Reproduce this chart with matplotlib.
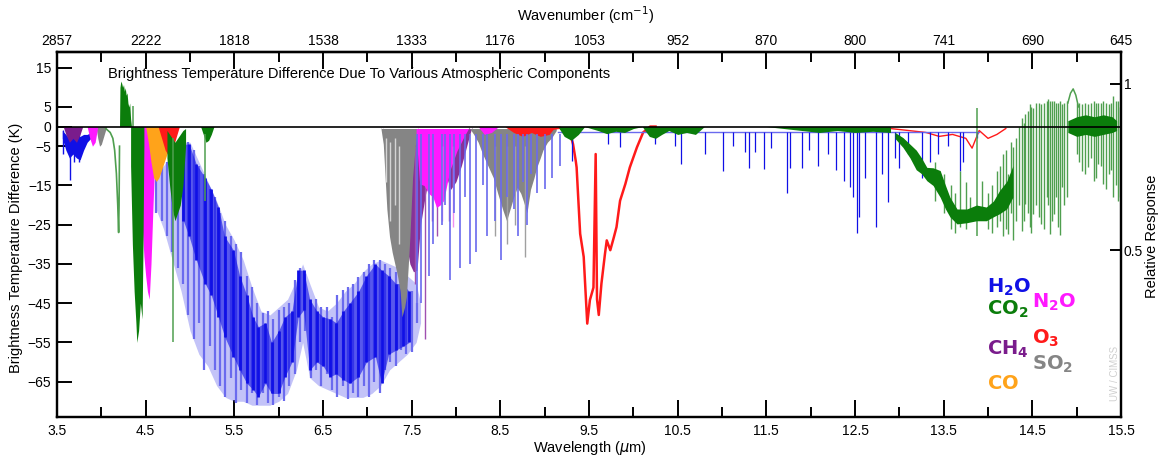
import numpy as np
import matplotlib.pyplot as plt

plt.rcParams['font.family'] = ['Liberation Sans', 'DejaVu Sans']

# ---------------- data ----------------
wl_major = [3.5, 4.5, 5.5, 6.5, 7.5, 8.5, 9.5, 10.5, 11.5, 12.5, 13.5, 14.5, 15.5]
wl_minor = [4.0, 5.0, 6.0, 7.0, 8.0, 9.0, 10.0, 11.0, 12.0, 13.0, 14.0, 15.0]
wn_labels = ['2857', '2222', '1818', '1538', '1333', '1176', '1053', '952', '870', '800', '741', '690', '645']
bt_ticks = [15, 5, 0, -5, -15, -25, -35, -45, -55, -65]
rr_ticks = [0.5, 1]
rr_labels = ['0.5', '1']

# H2O
h2o_sw_wl = [3.56, 3.60, 3.64, 3.68, 3.72, 3.76, 3.80, 3.84, 3.88, 3.92]
h2o_sw_top = [-1, -2, -3, -2, -3, -2.5, -2, -2, -1.5, -1]
h2o_sw_bot = [-3, -6, -8, -7, -8, -8.5, -6, -4, -3, -1.5]
h2o_sw_spk_wl = [3.57, 3.645, 3.69, 3.75]
h2o_sw_spk = [-7, -13.5, -9, -9]

# outer (light) envelope of the 6.3 um band
h2o_band_wl = [4.60, 4.70, 4.80, 4.90, 5.00, 5.10, 5.20, 5.30, 5.40, 5.50, 5.60, 5.70, 5.80, 5.90, 6.00, 6.10,
               6.20, 6.27, 6.35, 6.45, 6.55, 6.65, 6.75, 6.85, 6.95, 7.05, 7.15, 7.25, 7.35, 7.45, 7.55, 7.60]
h2o_band_top = [-12, -10, -7, -4, -4, -9, -14, -19, -25, -29, -34, -41, -47, -48, -46, -44,
                -39, -35, -40, -46, -47, -45, -42, -40, -37, -35, -34, -35, -36, -38, -40, -45]
h2o_band_bot = [-20, -26, -34, -42, -52, -58, -61, -66, -69, -70, -70, -71, -71, -71, -70, -68,
                -62, -55, -64, -66, -67, -68, -69, -69, -69, -68, -66, -62, -60, -58, -55, -50]

# individual light lines of the band
h2o_lt_wl = [4.62, 4.68, 4.74, 4.80, 4.86, 4.92, 4.98, 5.04, 5.10, 5.16, 5.22, 5.28, 5.34, 5.40, 5.46, 5.52,
             5.58, 5.64, 5.70, 5.76, 5.82, 5.88, 5.94, 6.00, 6.06, 6.12, 6.18, 6.24, 6.30, 6.36, 6.42, 6.48,
             6.54, 6.60, 6.66, 6.72, 6.78, 6.84, 6.90, 6.96, 7.02, 7.08, 7.14, 7.20, 7.26, 7.32, 7.38, 7.44,
             7.50, 7.56]
h2o_lt_top = [-12, -10, -9, -7, -6, -3.6, -4, -6, -10, -12, -16, -18, -22, -24, -28, -30,
              -32, -38, -41, -45, -47.6, -47, -49, -46.8, -46, -45, -39, -36, -37.5, -45, -44, -46,
              -46, -48.5, -43, -41.7, -41, -40, -38.3, -37, -35, -34, -34, -35, -36, -37, -38, -40,
              -42, -45]
h2o_lt_bot = [-22, -24, -28, -32, -36, -40, -48, -54, -50, -62, -56, -62, -66, -69, -64, -70.5,
              -67, -70.4, -68, -71, -68, -70.5, -71, -69, -70, -66, -63, -55, -52, -64, -62, -66,
              -63, -67, -69, -66, -69.5, -68, -69, -66, -69, -65, -68, -62, -60, -61, -57, -58,
              -57.5, -50]

# dark core lines of the band
h2o_core_wl = [4.925, 4.99, 5.07, 5.17, 5.24, 5.32, 5.39, 5.49, 5.56, 5.64, 5.71, 5.77, 5.85, 5.92, 6.00,
               6.07, 6.15, 6.22, 6.28, 6.35, 6.43, 6.50, 6.58, 6.65, 6.73, 6.80, 6.90, 6.99, 7.09, 7.16,
               7.24, 7.32, 7.40, 7.47]
h2o_core_top = [-4.5, -4.5, -9.5, -13, -16, -20.5, -28, -31.5, -38, -43, -48.5, -51, -50, -55, -52,
                -48.5, -47, -36.6, -36.6, -44, -47, -48.5, -49, -50, -47, -45, -42, -38, -35, -36.6,
                -38, -40, -40, -42]
h2o_core_bot = [-24, -28, -34, -40, -43, -48.5, -53.5, -58.6, -62, -65.4, -67, -68.8, -65.4, -68, -68,
                -63.7, -60, -48.5, -46.8, -62, -60, -61, -63.7, -63, -64.5, -65.4, -63.7, -60, -58.6, -65.4,
                -58, -57, -56, -55]

h2o_mid_wl = [7.56, 7.61, 7.69, 7.74, 7.84, 7.88, 7.93, 7.98, 8.05, 8.10, 8.16, 8.23, 8.30, 8.35, 8.44,
              8.51, 8.58, 8.65, 8.70, 8.75, 8.80, 8.85, 8.91, 9.00, 9.08, 9.17]
h2o_mid_depth = [-50, -45, -38, -30, -25, -20, -39, -22, -36, -18, -35, -32, -15, -28, -24,
                 -34, -18, -21, -28, -14, -25, -12, -17, -16, -13, -10]

h2o_lw_base_wl = [9.15, 13.9]
h2o_lw_base = [-1.5, -1.5]
h2o_lw_wl = [9.31, 9.71, 9.85, 10.24, 10.47, 10.54, 10.81, 11.01, 11.12, 11.26, 11.30, 11.37, 11.47, 11.55,
             11.73, 11.77, 11.90, 11.98, 12.08, 12.20, 12.29, 12.37, 12.44, 12.48, 12.52, 12.55, 12.61,
             12.74, 12.80, 12.87, 12.95, 13.00, 13.10, 13.25, 13.35, 13.44, 13.55, 13.68, 13.72, 13.88]
h2o_lw_depth = [-8.7, -4.5, -5.3, -4.5, -5, -9.5, -7, -11.3, -5, -6.5, -10.5, -6.5, -10.7, -5.5,
                -16.8, -10.5, -10.5, -6, -10, -7, -11, -13.8, -15.5, -18, -27.2, -23, -13,
                -25.6, -12, -19.3, -8, -10.5, -7, -13, -9, -7, -5, -11.2, -9, -3]

# CO2
co2_a_wl = [4.05, 4.10, 4.13, 4.15, 4.17, 4.185, 4.195, 4.20, 4.205]
co2_a = [-0.5, -1.5, -3, -6, -12, -20, -27, -20, -5]
co2_pos_wl = [4.205, 4.21, 4.22, 4.23, 4.24, 4.25, 4.26, 4.27, 4.28, 4.29, 4.30, 4.31, 4.32, 4.33, 4.34]
co2_pos = [0, 10, 11.6, 11, 10, 10.7, 9, 9.9, 8, 8.6, 6, 5, 6, 2, 0]
co2_b_wl = [4.33, 4.35, 4.37, 4.39, 4.40, 4.42, 4.44, 4.46, 4.47, 4.48]
co2_b = [-10, -30, -42, -50, -55, -52, -45, -49, -30, -5]
co2_c_wl = [4.74, 4.77, 4.80, 4.83, 4.86, 4.89, 4.92, 4.95]
co2_c_top = [-1, -2, -3, -4, -3, -2, -1, -0.5]
co2_c_bot = [-8, -15, -21, -24, -22, -20, -15, -5]
co2_d_wl = [5.12, 5.15, 5.18, 5.21, 5.24, 5.27]
co2_d = [0, -2, -4, -3.5, -2, 0]
co2_spk_wl = [4.81, 5.17, 4.36, 13.87]
co2_spk_top = [-3, -2, 5.3, 4.8]
co2_spk_bot = [-55, -19, 0, -28]
co2_lw_wl = [9.15, 9.22, 9.30, 9.38, 9.45, 9.60, 9.70, 9.80, 9.90, 10.0, 10.1, 10.18, 10.25, 10.32, 10.4,
             10.5, 10.6, 10.7, 10.8, 11.0, 11.5, 11.9, 12.1, 12.3, 12.5, 12.7, 12.9]
co2_lw = [0, -2.5, -3.5, -2, 0, -1, -1.8, -1.2, -1.5, -0.5, 0, -2.5, -3, -2, -1,
          -2, -1.5, -2, 0, 0, 0, -1, -1.5, -1, -1.5, -1.2, -1.5]
co2_core_wl = [12.95, 13.04, 13.12, 13.19, 13.25, 13.31, 13.38, 13.46, 13.52, 13.57, 13.65, 13.76, 13.87,
               13.98, 14.06, 14.13, 14.21, 14.28]
co2_core_top = [-1.5, -2.8, -4.5, -6, -8, -10.4, -10.5, -11.2, -15, -18, -21, -21, -20, -20.5, -19, -16.3,
                -14, -10]
co2_core_bot = [-3, -5.3, -8, -11, -12, -13.8, -15, -18, -21, -23, -24.8, -24.5, -24, -24, -23, -22.2,
                -21, -18]
co2_r_wl = [13.40, 13.50, 13.58, 13.63, 13.68, 13.75, 13.80, 13.93, 14.00, 14.04, 14.10, 14.14, 14.17, 14.20,
            14.23, 14.26, 14.28, 14.32, 14.35, 14.38, 14.40, 14.42, 14.45, 14.47, 14.49, 14.51, 14.54,
            14.57, 14.60, 14.63, 14.66, 14.68, 14.70, 14.72, 14.74, 14.77, 14.79, 14.81, 14.83, 14.86,
            14.89, 15.00, 15.03, 15.06, 15.09, 15.13, 15.16, 15.19, 15.22, 15.24, 15.27, 15.30, 15.33,
            15.36, 15.39, 15.41, 15.44, 15.47, 15.49]
co2_r_top = [-9, -12, -15, -17, -11.2, -14, -18, -13.8, -17, -15, -11.2, -10, -7, -6,
             -12, -4, -5.3, -2.8, 0, 2.3, 1, 3.1, 4, 5.7, 5, 4.8, 6,
             6.1, 5.7, 6, 6.5, 7, 6.5, 6.5, 6.5, 6, 6.1, 6.5, 5.7, 6,
             6.5, 6.1, 6, 5.7, 6, 5.7, 6, 6.5, 6, 6.1, 6, 6.5, 6,
             5.7, 6, 7.8, 6.5, 6.5, 5]
co2_r_bot = [-19, -22, -26, -27, -25.6, -26, -24, -23, -26, -27, -25.6, -24, -28, -26,
             -27.3, -22, -29, -24, -20, -26.5, -24, -19.7, -22, -25.6, -27, -22.2, -20,
             -23, -24.8, -26, -18, -20, -27.3, -24, -22.2, -18, -25.6, -27.5, -15.5, -20,
             -18, -7, -9, -11.2, -12, -10.4, -8, -13.8, -13, -9.5, -10, -14.6, -16,
             -12, -11, -18, -15, -19, -18]
co2_bump_wl = [14.90, 14.93, 14.96, 14.99, 15.02]
co2_bump = [6, 8.5, 9.6, 8, 5]
co2_dk_wl = [14.90, 15.0, 15.1, 15.2, 15.3, 15.4, 15.45]
co2_dk_top = [1.5, 2.5, 3, 2.5, 3, 2.5, 1.5]
co2_dk_bot = [-1.5, -2.5, -2, -2.5, -2, -1.5, -1]

# O3
o3_wl = [9.10, 9.17, 9.29, 9.32, 9.35, 9.36, 9.38, 9.40, 9.44, 9.47, 9.48, 9.51, 9.55, 9.575, 9.59, 9.61,
         9.64, 9.68, 9.70, 9.74, 9.78, 9.81, 9.85, 9.91, 9.96, 10.04, 10.11, 10.19, 10.25]
o3 = [-0.5, -0.3, -2, -4.5, -8.7, -10.4, -18.9, -27.3, -33.2, -46, -50.2, -44.2, -41, -7, -44, -48,
      -40, -32.4, -29, -31.5, -28.2, -25.6, -18.9, -14.6, -10.4, -5.3, -1.5, 0, 0]
o3_sw_wl = [4.64, 4.68, 4.72, 4.76, 4.80, 4.84, 4.88]
o3_sw = [0, -3, -6, -7.5, -6, -3, 0]
o3_m_wl = [8.55, 8.65, 8.75, 8.85, 8.95, 9.05, 9.12]
o3_m = [0, -1.5, -2.5, -1.5, -2.5, -2, 0]
o3_lw_wl = [12.9, 13.1, 13.3, 13.45, 13.6, 13.75, 13.82, 13.9, 14.0, 14.1, 14.2]
o3_lw = [-0.5, -1, -1.5, -2.5, -2, -3, -5.5, -1, -3, -2, -0.5]

# N2O
n2o_a_wl = [3.84, 3.87, 3.90, 3.93, 3.96]
n2o_a = [0, -3, -5, -4, 0]
n2o_b_wl = [4.42, 4.44, 4.46, 4.48, 4.50, 4.52, 4.54, 4.56, 4.58, 4.60, 4.62]
n2o_b = [0, -12, -25, -33, -38, -42, -44, -35, -22, -10, 0]
n2o_c_wl = [7.55, 7.59, 7.64, 7.69, 7.74, 7.78, 7.82, 7.86, 7.93, 8.01, 8.08, 8.14]
n2o_c = [-2, -14.6, -15, -17, -18, -20.6, -20, -18.9, -11.2, -6.2, -3, -0.5]
n2o_d_wl = [8.25, 8.32, 8.40, 8.48]
n2o_d = [0, -2, -1.5, 0]
n2o_spk_wl = [7.84, 7.97]
n2o_spk = [-24, -25.6]

# CH4
ch4_a_wl = [3.57, 3.60, 3.64, 3.68, 3.72, 3.76, 3.79]
ch4_a = [0, -2, -4, -3, -4, -2, 0]
ch4_b_wl = [7.18, 7.22, 7.27, 7.32, 7.38, 7.44, 7.48, 7.52, 7.56, 7.60, 7.65, 7.70, 7.76, 7.82, 7.88,
            7.94, 8.00, 8.06, 8.12, 8.18]
ch4_b = [0, -10, -16, -8, -20, -30, -35, -37, -36.6, -25, -18, -12, -10, -9, -12,
         -16, -14, -10, -5, 0]
ch4_spk_wl = [7.54, 7.65, 7.73, 7.78, 7.92]
ch4_spk = [-40, -54, -24, -28, -24]

# SO2
so2_a_wl = [3.94, 3.96, 3.98, 4.00, 4.02, 4.04, 4.06]
so2_a = [0, -3, -5, -4.5, -3, -1.5, 0]
so2_b_wl = [7.15, 7.18, 7.22, 7.25, 7.28, 7.31, 7.34, 7.37, 7.39, 7.42, 7.44, 7.46, 7.48, 7.51, 7.54, 7.57]
so2_b = [0, -4.5, -21, -28, -32, -35, -38, -42, -48.5, -46, -43.4, -36, -28, -13, -5, 0]
so2_gap_wl = [7.21, 7.26, 7.31, 7.36]
so2_gap_top = [-3, -4, -3, -5]
so2_gap_bot = [-14, -24, -20, -30]
so2_c_wl = [8.14, 8.20, 8.25, 8.30, 8.36, 8.42, 8.47, 8.53, 8.57, 8.61, 8.65, 8.69, 8.73, 8.76, 8.80,
            8.84, 8.88, 8.91, 8.95, 8.98, 9.03, 9.08, 9.13]
so2_c = [0, -2, -4, -7, -10, -13, -17, -21.4, -24, -21, -18, -15.5, -17, -19, -22,
         -16, -13, -10.4, -8, -6, -4, -2.8, -1]
so2_spk_wl = [8.44, 8.57, 8.66, 8.78]
so2_spk = [-28, -30, -25, -33.3]

# CO
co_wl = [4.50, 4.53, 4.56, 4.59, 4.62, 4.65, 4.68, 4.71, 4.74, 4.77, 4.80, 4.83]
co = [0, -4, -9, -13, -14, -13, -11, -9, -7, -5, -3, 0]

# legend labels
legend_left = [r'$\mathbf{H_2O}$', r'$\mathbf{CO_2}$', r'$\mathbf{CH_4}$', r'$\mathbf{CO}$']
legend_right = [r'$\mathbf{N_2O}$', r'$\mathbf{O_3}$', r'$\mathbf{SO_2}$']

# ---------------- colours ----------------
c_h2o, c_h2o_l = '#1010e6', '#6a6aee'
c_co2, c_co2_l = '#0b7d0b', '#4f9f4f'
c_ch4 = '#7a1c8c'
c_co = '#ffa31a'
c_n2o = '#ff19ff'
c_o3 = '#ff1a1a'
c_so2 = '#858585'

fig = plt.figure(figsize=(11.68, 4.59), dpi=100)
ax = fig.add_axes([0.0488, 0.0915, 0.911, 0.7952])

# H2O
ax.fill_between(h2o_sw_wl, h2o_sw_top, h2o_sw_bot, color=c_h2o, lw=0, zorder=2)
ax.vlines(h2o_sw_spk_wl, h2o_sw_spk, -1, color=c_h2o, lw=1.0, zorder=2)
ax.fill_between(h2o_band_wl, h2o_band_top, h2o_band_bot, color=c_h2o_l, alpha=0.4, lw=0, zorder=2)
ax.vlines(h2o_lt_wl, h2o_lt_bot, h2o_lt_top, color=c_h2o_l, lw=1.6, zorder=2)
ax.fill_between(h2o_core_wl, h2o_core_top, h2o_core_bot, color=c_h2o, alpha=0.6, lw=0, zorder=2)
ax.vlines(h2o_core_wl, h2o_core_bot, h2o_core_top, color=c_h2o, lw=2.0, zorder=2)

# CH4 (under SO2)
ax.fill_between(ch4_a_wl, 0, ch4_a, color=c_ch4, lw=0, zorder=3)
ax.fill_between(ch4_b_wl, -0.5, ch4_b, color=c_ch4, lw=0, alpha=0.9, zorder=3)
ax.vlines(ch4_spk_wl, ch4_spk, -5, color='#a050b0', lw=1.0, zorder=3)

# SO2
ax.fill_between(so2_a_wl, 0, so2_a, color=c_so2, lw=0, zorder=3)
ax.fill_between(so2_b_wl, -0.5, so2_b, color=c_so2, lw=0, zorder=3)
ax.vlines(so2_gap_wl, so2_gap_bot, so2_gap_top, color='#d4d4d4', lw=1.0, zorder=3)
ax.fill_between(so2_c_wl, -0.5, so2_c, color=c_so2, lw=0, zorder=3)
ax.vlines(so2_spk_wl, so2_spk, -5, color='#a0a0a0', lw=1.0, zorder=3)

# N2O
ax.fill_between(n2o_a_wl, 0, n2o_a, color=c_n2o, lw=0, zorder=4)
ax.fill_between(n2o_b_wl, 0, n2o_b, color=c_n2o, lw=0, zorder=4)
ax.fill_between(n2o_c_wl, -0.5, n2o_c, color=c_n2o, lw=0, zorder=4)
ax.fill_between(n2o_d_wl, 0, n2o_d, color=c_n2o, lw=0, zorder=4)
ax.vlines(n2o_spk_wl, n2o_spk, -5, color='#f090f0', lw=1.0, zorder=4)

# CO
ax.fill_between(co_wl, 0, co, color=c_co, lw=0, zorder=4)

# O3
ax.fill_between(o3_sw_wl, 0, o3_sw, color=c_o3, lw=0, zorder=5)
ax.fill_between(o3_m_wl, 0, o3_m, color=c_o3, lw=0, zorder=5)
ax.plot(o3_wl, o3, color=c_o3, lw=1.8, zorder=5)
ax.plot(o3_lw_wl, o3_lw, color=c_o3, lw=1.0, zorder=5)

# H2O lines beyond the main band
ax.vlines(h2o_mid_wl, h2o_mid_depth, -2, color=c_h2o_l, lw=1.2, zorder=5)
ax.plot(h2o_lw_base_wl, h2o_lw_base, color=c_h2o_l, lw=1.0, zorder=5)
ax.vlines(h2o_lw_wl, h2o_lw_depth, -1.5, color=c_h2o, lw=0.9, zorder=6)

# CO2
ax.plot(co2_a_wl, co2_a, color=c_co2_l, lw=1.2, zorder=6)
ax.fill_between(co2_pos_wl, 0, co2_pos, color=c_co2, lw=0, zorder=6)
ax.fill_between(co2_b_wl, 0, co2_b, color=c_co2, lw=0, zorder=6)
ax.fill_between(co2_c_wl, co2_c_top, co2_c_bot, color=c_co2, lw=0, zorder=6)
ax.fill_between(co2_d_wl, 0, co2_d, color=c_co2, lw=0, zorder=6)
ax.vlines(co2_spk_wl, co2_spk_bot, co2_spk_top, color=c_co2_l, lw=1.1, zorder=6)
ax.fill_between(co2_lw_wl, 0, co2_lw, color=c_co2, lw=0, zorder=6)
ax.vlines(co2_r_wl, co2_r_bot, co2_r_top, color=c_co2_l, lw=1.0, zorder=6)
ax.fill_between(co2_core_wl, co2_core_top, co2_core_bot, color=c_co2, lw=0, zorder=6)
ax.plot(co2_bump_wl, co2_bump, color=c_co2_l, lw=1.1, zorder=6)
ax.fill_between(co2_dk_wl, co2_dk_top, co2_dk_bot, color=c_co2, lw=0, zorder=6)

ax.axhline(0, color='black', lw=1.2, zorder=8)

ax.set_xlim(3.5, 15.5)
ax.set_ylim(-74, 19)
ax.set_xticks(wl_major)
ax.set_xticks(wl_minor, minor=True)
ax.set_yticks(bt_ticks)
ax.tick_params(axis='x', which='major', direction='in', length=12, width=1.4, labelsize=10, pad=5)
ax.tick_params(axis='x', which='minor', direction='in', length=7, width=1.4)
ax.tick_params(axis='y', direction='in', length=11, width=1.4, labelsize=10, pad=4)
for s in ax.spines.values():
    s.set_linewidth(1.6)

top = ax.secondary_xaxis('top')
top.set_xticks(wl_major, labels=wn_labels)
top.set_xticks(wl_minor, minor=True)
top.tick_params(axis='x', which='major', direction='in', length=12, width=1.4, labelsize=10, pad=3)
top.tick_params(axis='x', which='minor', direction='in', length=7, width=1.4)
top.spines['top'].set_linewidth(1.6)

ax2 = ax.twinx()
ax2.set_ylim(0, 1.096)
ax2.set_yticks(rr_ticks, labels=rr_labels)
ax2.tick_params(axis='y', direction='in', length=8, width=1.4, labelsize=10, pad=2)
for s in ax2.spines.values():
    s.set_linewidth(1.6)

ax.text(0.048, 0.94, 'Brightness Temperature Difference Due To Various Atmospheric Components',
        transform=ax.transAxes, fontsize=10.5, va='center', ha='left', zorder=9)

left_cols = [c_h2o, c_co2, c_ch4, c_co]
left_y = [0.340, 0.279, 0.170, 0.077]
for lab, col, yy in zip(legend_left, left_cols, left_y):
    ax.text(0.874, yy, lab, transform=ax.transAxes, color=col, fontsize=14, va='baseline', zorder=9)
right_cols = [c_n2o, c_o3, c_so2]
right_y = [0.299, 0.200, 0.129]
for lab, col, yy in zip(legend_right, right_cols, right_y):
    ax.text(0.916, yy, lab, transform=ax.transAxes, color=col, fontsize=14, va='baseline', zorder=9)

ax.text(0.994, 0.12, 'UW / CIMSS', transform=ax.transAxes, rotation=90, color='#cfcfcf',
        fontsize=7, ha='center', va='center')

fig.text(0.501, 0.967, r'Wavenumber (cm$^{-1}$)', ha='center', va='center', fontsize=10.5)
fig.text(0.505, 0.024, r'Wavelength ($\mu$m)', ha='center', va='center', fontsize=10.5)
fig.text(0.014, 0.46, 'Brightness Temperature Difference (K)', rotation=90, ha='center', va='center',
         fontsize=10.5)
fig.text(0.986, 0.485, 'Relative Response', rotation=90, ha='center', va='center', fontsize=10.5)

fig.savefig('out.png', dpi=100)
